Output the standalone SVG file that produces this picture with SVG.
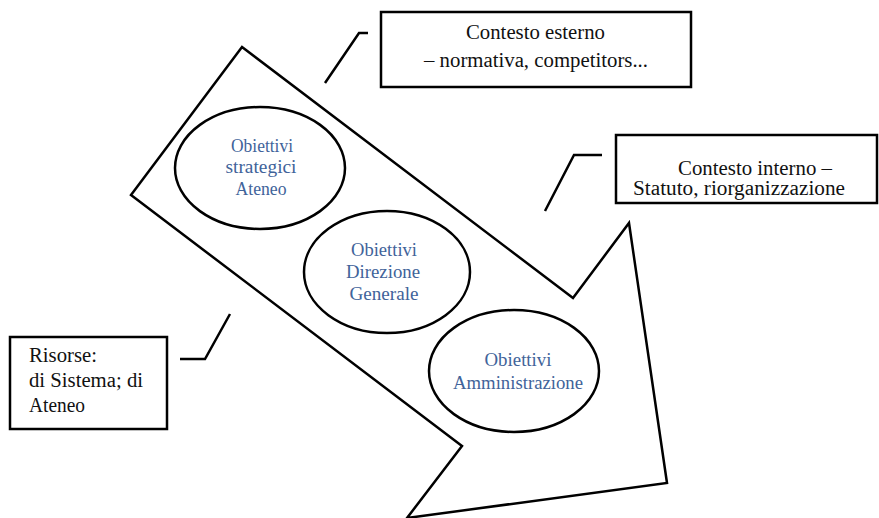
<svg xmlns="http://www.w3.org/2000/svg" width="879" height="518" viewBox="0 0 879 518">
<style>
.ln{fill:none;stroke:#000;stroke-width:2.5;stroke-linejoin:miter}
.box{fill:#fff;stroke:#000;stroke-width:2.5}
.ell{fill:#fff;stroke:#000;stroke-width:2.5}
.t{font-size:20px;fill:#111}
.o{font-size:19px;fill:#41639a;text-anchor:middle}
</style>
<rect width="879" height="518" fill="#fff"/>
<g id="arrow">
<polygon class="ln" points="242,47 573,298 629,223 667,483 407,518 462,446 131,195"/>
</g>
<g id="connectors">
<polyline class="ln" points="325,83 359,33 368,33"/>
<polyline class="ln" points="545,211 574,155 602,155"/>
<polyline class="ln" points="180,359 205,359 230,314"/>
</g>
<g font-family="Liberation Serif, Times New Roman, DejaVu Serif, serif">
<g id="node-strategici">
<ellipse class="ell" cx="260" cy="168" rx="85" ry="61"/>
<text class="o" x="262" y="152" textLength="62" lengthAdjust="spacingAndGlyphs">Obiettivi</text>
<text class="o" x="261" y="173" textLength="71" lengthAdjust="spacingAndGlyphs">strategici</text>
<text class="o" x="261" y="195" textLength="51" lengthAdjust="spacingAndGlyphs">Ateneo</text>
</g>
<g id="node-direzione">
<ellipse class="ell" cx="387" cy="272" rx="83" ry="61"/>
<text class="o" x="384" y="256" textLength="66" lengthAdjust="spacingAndGlyphs">Obiettivi</text>
<text class="o" x="383" y="278" textLength="74" lengthAdjust="spacingAndGlyphs">Direzione</text>
<text class="o" x="384" y="300" textLength="69" lengthAdjust="spacingAndGlyphs">Generale</text>
</g>
<g id="node-amministrazione">
<ellipse class="ell" cx="514" cy="371" rx="85" ry="61"/>
<text class="o" x="518" y="366" textLength="67" lengthAdjust="spacingAndGlyphs">Obiettivi</text>
<text class="o" x="518" y="389" textLength="130" lengthAdjust="spacingAndGlyphs">Amministrazione</text>
</g>
<g id="box-esterno">
<rect class="box" x="381" y="12" width="310" height="75"/>
<text class="t" x="466" y="39" textLength="139" lengthAdjust="spacingAndGlyphs">Contesto esterno</text>
<text class="t" x="424" y="67" textLength="224" lengthAdjust="spacingAndGlyphs">– normativa, competitors...</text>
</g>
<g id="box-interno">
<rect class="box" x="616" y="135" width="261" height="68"/>
<text class="t" x="678" y="175" textLength="154" lengthAdjust="spacingAndGlyphs">Contesto interno –</text>
<text class="t" x="633" y="195" textLength="212" lengthAdjust="spacingAndGlyphs">Statuto, riorganizzazione</text>
</g>
<g id="box-risorse">
<rect class="box" x="10" y="337" width="157" height="92"/>
<text class="t" x="29" y="362" textLength="68" lengthAdjust="spacingAndGlyphs">Risorse:</text>
<text class="t" x="29" y="387" textLength="114" lengthAdjust="spacingAndGlyphs">di Sistema; di</text>
<text class="t" x="29" y="412" textLength="56" lengthAdjust="spacingAndGlyphs">Ateneo</text>
</g>
</g>
</svg>
